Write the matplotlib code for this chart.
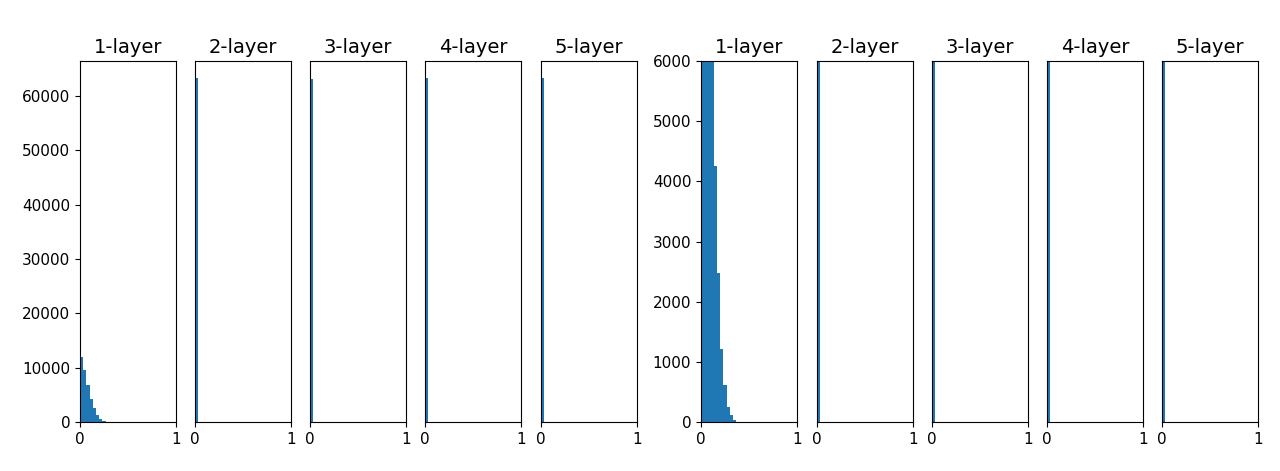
import numpy as np
import matplotlib.pyplot as plt

# histogram counts per bin (30 bins over 0..1)
titles = ["1-layer", "2-layer", "3-layer", "4-layer", "5-layer"]
n_bins = 30

# left figure: full y range
left_first = [12000, 9500, 6850, 4300, 2500, 1220, 610, 250, 90, 25]
left_deep_bin0 = [63300, 63200, 63250, 63300]

# right figure: same kind of plot, y limited to 6000
right_first = [9000, 8200, 7400, 6500, 4250, 2480, 1220, 610, 250, 110, 30]
right_deep_bin0 = [63000, 63100, 63000, 63200]

edges = np.linspace(0, 1, n_bins + 1)
centers = (edges[:-1] + edges[1:]) / 2


def pad(vals):
    c = np.zeros(n_bins)
    c[:len(vals)] = vals
    return c


left_counts = [pad(left_first)] + [pad([v]) for v in left_deep_bin0]
right_counts = [pad(right_first)] + [pad([v]) for v in right_deep_bin0]

fig = plt.figure(figsize=(12.8, 4.71), dpi=100)
W, H = 1280, 471
ax_w, ax_h = 96, 361
bottom = (H - 422) / H

left_x = [80, 195, 310, 425, 541]
right_x = [701, 817, 932, 1047, 1162]

first = None
for i, (x0, counts) in enumerate(zip(left_x, left_counts)):
    ax = fig.add_axes([x0 / W, bottom, ax_w / W, ax_h / H], sharey=first)
    if first is None:
        first = ax
    ax.hist(centers, bins=edges, weights=counts)
    ax.set_title(titles[i], fontsize=14)
    ax.set_xlim(0, 1)
    ax.set_xticks([0, 1])
    ax.tick_params(axis="x", labelsize=11)
    if i != 0:
        ax.tick_params(axis="y", left=False, labelleft=False)
    else:
        ax.set_yticks(np.arange(0, 60001, 10000))
        ax.tick_params(axis="y", labelsize=11)

for i, (x0, counts) in enumerate(zip(right_x, right_counts)):
    ax = fig.add_axes([x0 / W, bottom, ax_w / W, ax_h / H])
    ax.hist(centers, bins=edges, weights=counts)
    ax.set_title(titles[i], fontsize=14)
    ax.set_xlim(0, 1)
    ax.set_ylim(0, 6000)
    ax.set_xticks([0, 1])
    ax.tick_params(axis="x", labelsize=11)
    if i != 0:
        ax.tick_params(axis="y", left=False, labelleft=False)
    else:
        ax.set_yticks(np.arange(0, 6001, 1000))
        ax.tick_params(axis="y", labelsize=11)

fig.savefig("out.png", dpi=100)
